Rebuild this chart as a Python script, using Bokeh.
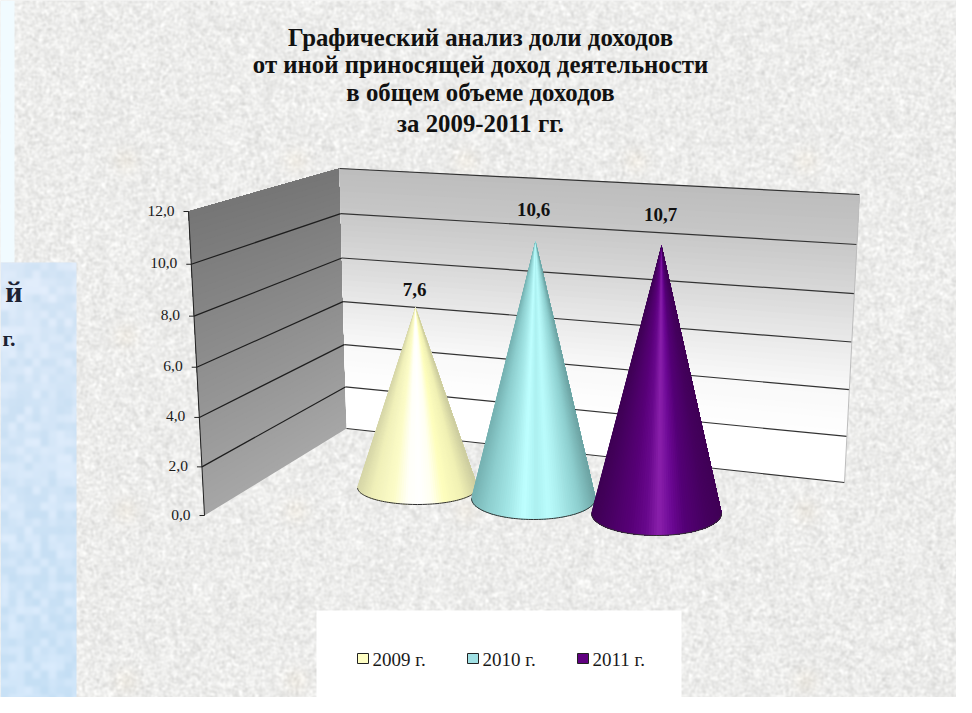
import numpy as np
from bokeh.plotting import figure
from bokeh.models import Range1d
from bokeh.core.properties import value
from bokeh.embed import file_html
from bokeh.resources import INLINE

# ---------- data ----------
categories = ["2009 г.", "2010 г.", "2011 г."]
values = [7.6, 10.6, 10.7]
value_labels = ["7,6", "10,6", "10,7"]
axis_ticks = [0, 2, 4, 6, 8, 10, 12]
axis_labels = ["0,0", "2,0", "4,0", "6,0", "8,0", "10,0", "12,0"]
title_lines = ["Графический анализ доли доходов",
               "от иной приносящей доход деятельности",
               "в общем объеме доходов",
               "за 2009-2011 гг."]

# ---------- page / projection geometry (screen pixels) ----------
W, H = 956, 697
TOP = 713
def Y(y):
    return TOP - np.asarray(y, dtype=float)

FRONT = ((204, 515), (188, 211))
BACK = ((346, 428), (339, 168))
RIGHT = ((844, 482), (859, 194))
AMAX = 12.0
def proj(v, edge):
    t = v / AMAX
    s = t / (t + 1.05 * (1 - t))
    return (edge[0][0] + (edge[1][0] - edge[0][0]) * s,
            edge[0][1] + (edge[1][1] - edge[0][1]) * s)

CONE_CX = [417, 533, 656]
CONE_CY = [487, 498, 513]
CONE_A = [60, 62, 65]
CONE_B = [17, 21, 22]
CONE_TIPX = [415, 535, 661]
CONE_SCALE = [23.7, 24.3, 25.05]
LABEL_POS = [(414, 289), (533, 209), (660, 214)]
LEGEND_X = [357, 467, 577]
SWATCH = ["#FFFFC4", "#A0E0E4", "#600080"]
STOPS = [0, .12, .3, .42, .52, .62, .72, .88, 1]
SHADE = [
    [(214, 214, 168), (240, 240, 185), (252, 252, 200), (255, 255, 248), (255, 255, 255),
     (255, 255, 240), (254, 254, 190), (240, 240, 180), (205, 205, 160)],
    [(118, 178, 178), (140, 205, 205), (165, 232, 232), (190, 255, 255), (172, 240, 240),
     (186, 252, 252), (170, 236, 236), (140, 205, 205), (110, 165, 165)],
    [(62, 0, 84), (72, 0, 98), (88, 0, 120), (104, 8, 140), (138, 32, 172),
     (108, 8, 148), (84, 0, 118), (70, 0, 96), (64, 0, 86)],
]

p = figure(width=W, height=H, x_range=Range1d(0, W), y_range=Range1d(TOP - H, TOP),
           output_backend="svg", toolbar_location=None, min_border=0,
           outline_line_color=None, background_fill_color="#ececea", border_fill_color="#ececea")
p.xaxis.visible = False
p.yaxis.visible = False
p.grid.visible = False

# ---------- deterministic paper texture ----------
yy, xx = np.mgrid[0:H, 0:W]
def fhash(a, b, s=0.0):
    v = np.sin(a * 12.9898 + b * 78.233 + s) * 43758.5453
    return v - np.floor(v)
def blur(a, n=1):
    for _ in range(n):
        a = (a + np.roll(a, 1, 0) + np.roll(a, -1, 0) + np.roll(a, 1, 1) + np.roll(a, -1, 1)) / 5
    return a
fine = blur(fhash(xx, yy), 2)
coarse = blur(fhash(xx // 3, yy // 3, 1.7), 3)
g = 237 + (fine - fine.mean()) / fine.std() * 6 + (coarse - coarse.mean()) / coarse.std() * 2
tex = np.zeros((H, W, 4), dtype=np.uint8)
tint = np.zeros((H, W))
for mx in (125, 295, 465, 635, 805):
    for my in (160, 335, 510, 680):
        tint += np.exp(-(((xx - mx) / 12.0) ** 2 + ((yy - my) / 12.0) ** 2))
tex[..., 0] = np.clip(g + 1 * tint, 0, 255)
tex[..., 1] = np.clip(g - 2 * tint, 0, 255)
tex[..., 2] = np.clip(g - 1.5 - 7 * tint, 0, 255)
tex[..., 3] = 255
p.image_rgba(image=[np.flipud(tex).view(np.uint32).reshape(H, W)], x=0, y=TOP - H, dw=W, dh=H)

# ---------- pale blue panels at the left ----------
p.quad(left=0, right=14, top=Y(0), bottom=Y(262), fill_color="#f1fbff", line_color=None)
MW, MH = 76, H - 262
my, mx = np.mgrid[0:MH, 0:MW]
blk = blur(fhash(mx // 8, my // 8, 3.1), 6)
blk = (blk - blk.mean()) / blk.std()
ramp = my / MH
mos = np.zeros((MH, MW, 4), dtype=np.uint8)
mos[..., 0] = np.clip(217 - 12 * ramp + 5 * blk, 0, 255)
mos[..., 1] = np.clip(232 - 4 * ramp + 3 * blk, 0, 255)
mos[..., 2] = np.clip(248 + 2 * blk, 0, 255)
mos[..., 3] = 255
p.image_rgba(image=[np.flipud(mos).view(np.uint32).reshape(MH, MW)], x=0, y=TOP - H, dw=MW, dh=MH)
p.text(x=[22], y=Y([291]), text=["й"], text_font=value("Liberation Serif"), text_font_style="bold",
       text_font_size="30px", text_align="right", text_baseline="middle", text_color="#1c2232")
p.text(x=[15], y=Y([338]), text=["г."], text_font=value("Liberation Serif"), text_font_style="bold",
       text_font_size="22px", text_align="right", text_baseline="middle", text_color="#1c2232")

# ---------- walls (painted back to front so that no seams show) ----------
steps = np.arange(0, AMAX, 0.25)
back_v = [0, 2, 4, 6, 8, 10, 12]
back_g = [255, 255, 249, 234, 216, 200, 189]
left_xs, left_ys, left_c, back_xs, back_ys, back_c = [], [], [], [], [], []
for v in steps:
    a, b, c, d = proj(v, FRONT), proj(AMAX, FRONT), proj(AMAX, BACK), proj(v, BACK)
    left_xs.append([a[0], b[0], c[0], d[0]])
    left_ys.append(list(Y([a[1], b[1], c[1], d[1]])))
    gl = int(167 + (118 - 167) * (v + .125) / AMAX)
    left_c.append(f"#{gl:02x}{gl:02x}{gl:02x}")
    e, f = proj(AMAX, RIGHT), proj(v, RIGHT)
    back_xs.append([d[0], c[0], e[0], f[0]])
    back_ys.append(list(Y([d[1], c[1], e[1], f[1]])))
    gb = int(np.interp(v + .125, back_v, back_g))
    back_c.append(f"#{gb:02x}{gb:02x}{gb:02x}")
p.patches(left_xs, left_ys, fill_color=left_c, line_color=None)
p.patches(back_xs, back_ys, fill_color=back_c, line_color=None)

# gridlines, ticks and axis
for t, lab in zip(axis_ticks, axis_labels):
    f, b, r = proj(t, FRONT), proj(t, BACK), proj(t, RIGHT)
    if 0 < t < AMAX:
        p.line([f[0], b[0]], Y([f[1], b[1]]), line_color="#1e1e1e", line_width=1.2)
    p.line([b[0], r[0]], Y([b[1], r[1]]), line_color="#333333", line_width=1.2)
    p.line([f[0] - 5, f[0]], Y([f[1], f[1]]), line_color="#222222", line_width=1)
    p.text(x=[f[0] - 14], y=Y([f[1] - 1]), text=[lab], text_font=value("Liberation Serif"),
           text_font_size="15.5px", text_align="right", text_baseline="middle", text_color="#1a1a1a")
p.line([FRONT[0][0], FRONT[1][0]], Y([FRONT[0][1], FRONT[1][1]]), line_color="#222222", line_width=1)
p.line([RIGHT[0][0], RIGHT[1][0]], Y([RIGHT[0][1], RIGHT[1][1]]), line_color="#bdbdbd", line_width=1)

# ---------- cones ----------
def shade(i, u):
    cols = np.array(SHADE[i], dtype=float)
    r = [np.interp(u, STOPS, cols[:, k]) for k in range(3)]
    return "#%02x%02x%02x" % tuple(int(round(c)) for c in r)

for i, val in enumerate(values):
    cx, cy, a, b, tx = CONE_CX[i], CONE_CY[i], CONE_A[i], CONE_B[i], CONE_TIPX[i]
    tip = cy - val * CONE_SCALE[i]
    ext = np.arcsin(b / (cy - tip))
    th = np.linspace(np.pi + ext, -ext, 81)
    px = cx + a * np.cos(th)
    py = cy + b * np.sin(th)
    xs, ys, cols = [], [], []
    for k in range(len(th) - 1):
        xs.append([tx] + list(px[k:]))
        ys.append([float(Y(tip))] + list(Y(py[k:])))
        cols.append(shade(i, float(np.clip((0.5 * (px[k] + px[k + 1]) - cx + a) / (2 * a), 0, 1))))
    p.patches(xs, ys, fill_color=cols, line_color=None)
    arc = th[(th <= np.pi) & (th >= 0)]
    p.line(cx + a * np.cos(arc), Y(cy + b * np.sin(arc)), line_color="#303030", line_width=1)
    lx, ly = LABEL_POS[i]
    p.text(x=[lx], y=Y([ly]), text=[value_labels[i]], text_font=value("Liberation Serif"),
           text_font_style="bold", text_font_size="19px", text_align="center",
           text_baseline="middle", text_color="#111111")

# ---------- title ----------
for line, ty in zip(title_lines, [37, 64, 92, 123]):
    p.text(x=[480], y=Y([ty]), text=[line], text_font=value("Liberation Serif"), text_font_style="bold",
           text_font_size="24.8px", text_align="center", text_baseline="middle", text_color="#111111")

# ---------- legend ----------
p.quad(left=316, right=681, top=Y(610), bottom=Y(697), fill_color="#ffffff", line_color=None)
for cat, lx, col in zip(categories, LEGEND_X, SWATCH):
    p.quad(left=lx, right=lx + 11, top=Y(653), bottom=Y(663), fill_color=col, line_color="#222222", line_width=1)
    p.text(x=[lx + 15], y=Y([659]), text=[cat], text_font=value("Liberation Serif"), text_font_size="19px",
           text_align="left", text_baseline="middle", text_color="#1a1a1a")

open("out.html", "w").write(file_html(p, INLINE))
